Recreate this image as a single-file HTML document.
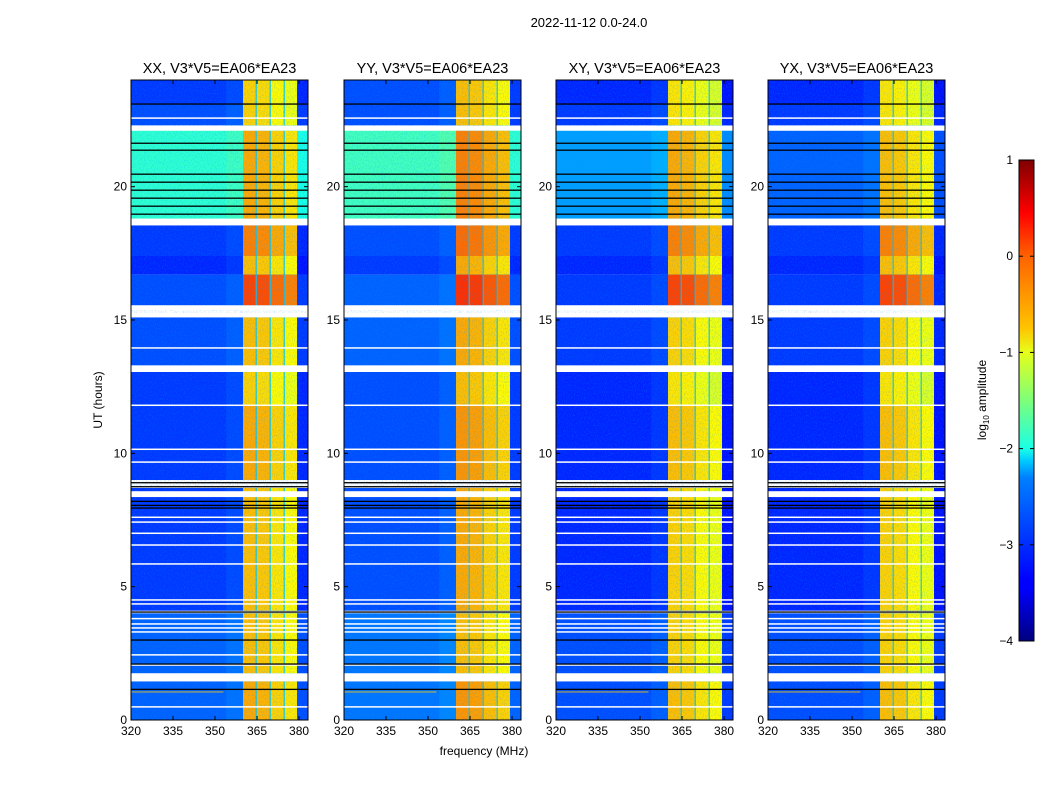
<!DOCTYPE html>
<html><head><meta charset="utf-8"><style>
body{margin:0;background:#fff}
svg text{font-family:"Liberation Sans",sans-serif;fill:#000}
</style></head><body>
<svg id="c" width="1050" height="800" xmlns="http://www.w3.org/2000/svg">
<defs>
<linearGradient id="jet" x1="0" y1="1" x2="0" y2="0">
<stop offset="0" stop-color="#00007f"/><stop offset="0.11" stop-color="#0000ff"/><stop offset="0.125" stop-color="#0000ff"/>
<stop offset="0.34" stop-color="#0080ff"/><stop offset="0.375" stop-color="#00ccff"/><stop offset="0.4" stop-color="#1affe6"/>
<stop offset="0.5" stop-color="#7dff7a"/><stop offset="0.6" stop-color="#e6ff1a"/><stop offset="0.65" stop-color="#ffc400"/>
<stop offset="0.8" stop-color="#ff6200"/><stop offset="0.89" stop-color="#ff0000"/><stop offset="1" stop-color="#7f0000"/>
</linearGradient>
<filter id="noise" x="0" y="0" width="100%" height="100%"><feTurbulence type="fractalNoise" baseFrequency="0.9 0.6" numOctaves="1" seed="3"/><feColorMatrix type="matrix" values="0 0 0 0 0  0 0 0 0 0.3  0 0 0 0 1  0 0 0 -2.2 1.2"/></filter>
</defs>
</svg>
<script>
// ---- data ----
const panelTitles=["XX, V3*V5=EA06*EA23","YY, V3*V5=EA06*EA23","XY, V3*V5=EA06*EA23","YX, V3*V5=EA06*EA23"];
const segStart=[23.1,22.3,18.8,17.4,16.7,15.55,13.2,11.8,9.0,4.1,1.75,0.0];
const segEnd  =[24.0,23.1,22.1,18.55,17.4,16.7,15.1,13.2,11.8,8.7,4.0,1.45];
const bgXX=[-3.1,-3.0,-1.9,-3.1,-3.2,-3.0,-3.0,-3.1,-3.1,-3.1,-2.9,-2.9];
const bgYY=[-3.0,-3.0,-1.8,-3.0,-3.1,-2.9,-2.9,-3.0,-3.0,-3.0,-2.8,-2.8];
const bgXY=[-3.2,-3.1,-2.6,-3.1,-3.2,-3.1,-3.1,-3.2,-3.2,-3.2,-3.0,-3.0];
const bgYX=[-3.2,-3.1,-2.9,-3.1,-3.2,-3.1,-3.1,-3.2,-3.2,-3.2,-3.0,-3.0];
const bandXX=[-0.7,-0.7,-0.5,-0.3,-0.6,0.0,-0.6,-0.7,-0.5,-0.6,-0.6,-0.5];
const bandYY=[-0.6,-0.6,-0.3,-0.2,-0.5,0.1,-0.5,-0.6,-0.4,-0.5,-0.6,-0.4];
const bandXY=[-0.8,-0.8,-0.5,-0.3,-0.6,0.0,-0.7,-0.8,-0.6,-0.7,-0.7,-0.6];
const bandYX=[-0.8,-0.8,-0.6,-0.3,-0.6,0.0,-0.7,-0.8,-0.6,-0.7,-0.7,-0.6];
const bandColStart=[360.0,364.9,369.9,374.9];
const bandColEnd  =[364.5,369.5,374.5,379.3];
const bandColOffset=[0.05,0.0,-0.15,-0.25];
const whiteGaps=[[22.55,22.6],[22.1,22.27],[18.55,18.8],[15.37,15.55],[15.1,15.26],[13.93,13.98],[13.05,13.3],[11.78,11.83],[10.13,10.18],[9.65,9.7],[8.36,8.58],[7.58,7.63],[7.4,7.45],[6.98,7.03],[6.54,6.59],[5.83,5.88],[4.48,4.53],[4.33,4.38],[3.78,3.83],[3.58,3.63],[3.43,3.48],[3.28,3.33],[2.42,2.47],[2.04,2.09],[1.45,1.75],[0.47,0.52]];
const blackLines=[23.1,21.63,21.37,20.47,20.17,19.87,19.57,19.27,18.97,8.9,8.75,8.2,8.05,7.95,4.05,3.0,2.1,1.15];
const xTicks=[320,335,350,365,380];
const yTicks=[0,5,10,15,20];
const cbTicks=[1,0,-1,-2,-3,-4];
// ---- layout ----
const NS="http://www.w3.org/2000/svg", svg=document.getElementById('c');
const lefts=[131,344,556,768], PW=177, PT=80, PH=640, FMIN=320, FMAX=383.2, TMAX=24;
const bgs=[bgXX,bgYY,bgXY,bgYX], bands=[bandXX,bandYY,bandXY,bandYX];
function jet(v){let t=(v+4)/5;t=Math.max(0,Math.min(1,t));
 const r=Math.max(0,Math.min(1,1.5-Math.abs(4*t-3))),g=Math.max(0,Math.min(1,1.5-Math.abs(4*t-2))),b=Math.max(0,Math.min(1,1.5-Math.abs(4*t-1)));
 return `rgb(${Math.round(r*255)},${Math.round(g*255)},${Math.round(b*255)})`;}
function el(tag,attrs,parent){const e=document.createElementNS(NS,tag);for(const k in attrs)e.setAttribute(k,attrs[k]);(parent||svg).appendChild(e);return e;}
function txt(s,x,y,size,anchor,parent){const t=el('text',{x:x,y:y,'font-size':size,'text-anchor':anchor||'middle'},parent);t.textContent=s;return t;}
const title=txt("2022-11-12 0.0-24.0",589,27,13);


for(let p=0;p<4;p++){
 const L=lefts[p];
 const xs=f=>L+(f-FMIN)/(FMAX-FMIN)*PW, ys=h=>PT+PH-h/TMAX*PH;
 const g=el('g',{});
 
 
 el('rect',{x:L,y:PT,width:PW,height:PH,fill:'#fff'},g);
 for(let s=0;s<segStart.length;s++){
  const y0=ys(segEnd[s]),y1=ys(segStart[s]);
  const r=el('rect',{x:L,y:y0,width:PW,height:y1-y0,fill:jet(bgs[p][s])},g);
  
  
  el('rect',{x:xs(354),y:y0,width:xs(360)-xs(354),height:y1-y0,fill:jet(bgs[p][s]+0.2),opacity:0.4},g);
  el('rect',{x:xs(bandColStart[0]),y:y0,width:xs(bandColEnd[3])-xs(bandColStart[0]),height:y1-y0,fill:jet(-2.4)},g);
  for(let c=0;c<bandColStart.length;c++){
   const b=el('rect',{x:xs(bandColStart[c]),y:y0,width:xs(bandColEnd[c])-xs(bandColStart[c]),height:y1-y0,fill:jet(bands[p][s]+bandColOffset[c])},g);
   
   
  }
  el('rect',{x:xs(bandColEnd[3]),y:y0,width:xs(FMAX)-xs(bandColEnd[3]),height:y1-y0,fill:jet(bgs[p][s]-0.1)},g);
 }
 el('rect',{x:L,y:PT,width:PW,height:PH,filter:'url(#noise)',opacity:0.35},g);
 el('rect',{x:L,y:ys(1.07),width:xs(353)-L,height:1,fill:jet(-0.6),opacity:0.8},g);
 for(const w of whiteGaps){const y0=ys(w[1]),y1=ys(w[0]);el('rect',{x:L,y:y0,width:PW,height:Math.max(1.5,y1-y0),fill:'#fff'},g);}
 for(const b of blackLines){el('rect',{x:L,y:ys(b)-0.6,width:PW,height:1.3,fill:'#000'},g);}
 el('rect',{x:L,y:PT,width:PW,height:PH,fill:'none',stroke:'#000','stroke-width':1},g);
 for(const t of xTicks){const x=xs(t);
  el('line',{x1:x,y1:PT+PH,x2:x,y2:PT+PH-4,stroke:'#000'},g);el('line',{x1:x,y1:PT,x2:x,y2:PT+4,stroke:'#000'},g);
  const tl=txt(String(t),x,PT+PH+15,12,'middle',g);
  
  }
 for(const t of yTicks){const y=ys(t);
  el('line',{x1:L,y1:y,x2:L+4,y2:y,stroke:'#000'},g);el('line',{x1:L+PW,y1:y,x2:L+PW-4,y2:y,stroke:'#000'},g);
  const tl=txt(String(t),L-4,y+4,12,'end',g);
  
  }
 const pt=txt(panelTitles[p],L+PW/2,73,14.5,'middle',g);
 
 
}
const yl=txt("UT (hours)",0,0,12);
yl.setAttribute('transform','translate(102,400) rotate(-90)');


const xl=txt("frequency (MHz)",484,755,12);


const cb=el('g',{});


const CX=1019,CW=15,CT=160,CH=481;
el('rect',{x:CX,y:CT,width:CW,height:CH,fill:'url(#jet)',stroke:'#000','stroke-width':1},cb);
for(const t of cbTicks){const y=CT+(1-t)/5*CH;
 el('line',{x1:CX,y1:y,x2:CX+4,y2:y,stroke:'#000'},cb);el('line',{x1:CX+CW,y1:y,x2:CX+CW-4,y2:y,stroke:'#000'},cb);
 const tl=txt(t<0?'\u2212'+(-t):String(t),CX-6,y+4,12,'end',cb);
 
 }
const cl=el('text',{transform:'translate(986,400) rotate(-90)','font-size':12,'text-anchor':'middle'},cb);
cl.innerHTML='log<tspan font-size="8" dy="3">10</tspan><tspan dy="-3"> amplitude</tspan>';


</script>
</body></html>
